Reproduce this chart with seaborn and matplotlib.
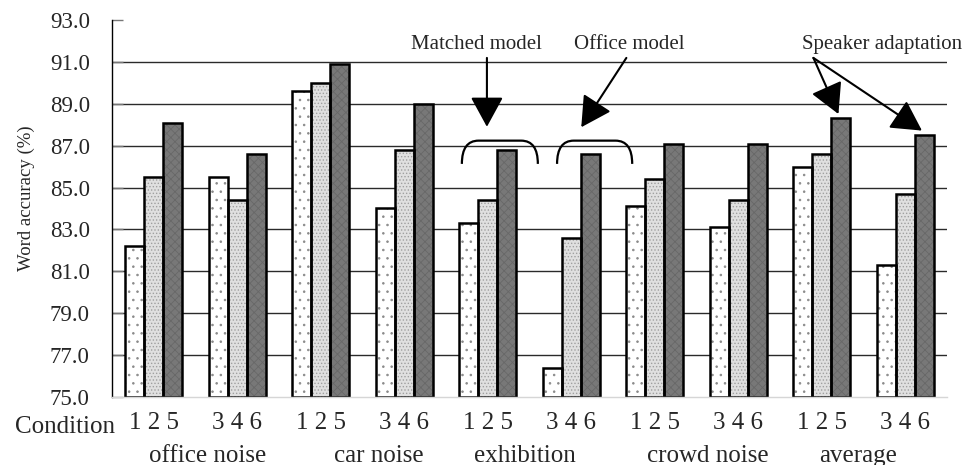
import pandas as pd
import numpy as np
import seaborn as sns
import matplotlib.pyplot as plt
from matplotlib.path import Path
from matplotlib.patches import PathPatch
from matplotlib.transforms import blended_transform_factory

# Valores (Word accuracy %)
noises = ['office noise', 'car noise', 'exhibition', 'crowd noise', 'average']
condition_sets = ['1 2 5', '3 4 6']
first_bar = [82.2, 85.5, 89.6, 84.0, 83.3, 76.4, 84.1, 83.1, 86.0, 81.3]
second_bar = [85.5, 84.4, 90.0, 86.8, 84.4, 82.6, 85.4, 84.4, 86.6, 84.7]
third_bar = [88.1, 86.6, 90.9, 89.0, 86.8, 86.6, 87.1, 87.1, 88.3, 87.5]
series = ['first', 'second', 'third']
y_ticks = [75.0, 77.0, 79.0, 81.0, 83.0, 85.0, 87.0, 89.0, 91.0, 93.0]

groups = [f'{n} {c}' for n in noises for c in condition_sets]
tick_labels = [c for n in noises for c in condition_sets]

df = pd.DataFrame({
    'group': groups * 3,
    'series': np.repeat(series, len(groups)),
    'accuracy': first_bar + second_bar + third_bar,
})

sns.set_theme(style='white')
plt.rcParams['font.family'] = ['Liberation Serif', 'DejaVu Serif']
plt.rcParams['hatch.linewidth'] = 0.6

fig = plt.figure(figsize=(9.78, 4.65), dpi=100)
ax = fig.add_axes([112 / 978, 1 - 397 / 465, 835 / 978, 377 / 465])

bar_width = 0.685
# preenchimento com textura
sns.barplot(data=df, x='group', y='accuracy', hue='series', order=groups,
            hue_order=series, palette=['white', '#e0e0e0', '#787878'],
            width=bar_width, gap=0, errorbar=None, legend=False, ax=ax)
hatches = ['..', '.....', 'xxxx']
hatch_colors = ['#8a8a8a', '#a0a0a0', '#686868']
for cont, h, hc in zip(ax.containers, hatches, hatch_colors):
    for p in cont:
        p.set_hatch(h)
        p.set_edgecolor(hc)
        p.set_linewidth(0)

# contorno preto
sns.barplot(data=df, x='group', y='accuracy', hue='series', order=groups,
            hue_order=series, palette=['black'] * 3, fill=False,
            width=bar_width, gap=0, errorbar=None, legend=False,
            linewidth=1.8, ax=ax)

# barras começam em 75
for p in ax.patches:
    h = p.get_height()
    p.set_y(y_ticks[0])
    p.set_height(h - y_ticks[0])

ax.set_ylim(y_ticks[0], y_ticks[-1])
ax.set_xlim(-0.5, len(groups) - 0.5)
ax.set_yticks(y_ticks)
ax.set_yticklabels([f'{v:.1f}' for v in y_ticks], fontsize=16.5)
ax.set_xticks(range(len(groups)))
ax.set_xticklabels(tick_labels, fontsize=18)
ax.tick_params(axis='x', length=0, pad=11)
ax.tick_params(axis='y', direction='in', length=8, width=1, color='#777777',
               left=True, pad=16)
ax.set_xlabel('')
ax.set_ylabel('')

ax.yaxis.grid(True, color='#2a2a2a', lw=1.0)
ax.set_axisbelow(True)
gl = ax.get_ygridlines()
gl[0].set_visible(False)
gl[-1].set_visible(False)

for s in ['top', 'right']:
    ax.spines[s].set_visible(False)
ax.spines['left'].set_color('black')
ax.spines['left'].set_linewidth(1.0)
ax.spines['bottom'].set_color('#d6d6d6')
ax.spines['bottom'].set_linewidth(1.0)

fig.text(26 / 978, 1 - 198 / 465, 'Word accuracy (%)', rotation=90,
         ha='center', va='center', fontsize=13.5)
fig.text(15 / 978, 1 - 433 / 465, 'Condition', ha='left', va='baseline',
         fontsize=18)

# nomes dos ruídos, no centro de cada par de grupos
offsets = [0.15, 0.2, -0.05, 0.13, -0.07]
trans = blended_transform_factory(ax.transData, fig.transFigure)
for i, (n, off) in enumerate(zip(noises, offsets)):
    ax.text(2 * i + 0.5 + off, 0.007, n, transform=trans,
            ha='center', va='baseline', fontsize=18)

# chaves
def brace(x0, x1, ytop, ybot, r):
    verts = [(x0, ybot), (x0, ytop), (x0 + r, ytop), (x0 + r, ytop),
             (x1 - r, ytop), (x1 - r, ytop), (x1, ytop), (x1, ybot)]
    codes = [Path.MOVETO, Path.CURVE3, Path.CURVE3, Path.LINETO,
             Path.LINETO, Path.LINETO, Path.CURVE3, Path.CURVE3]
    ax.add_patch(PathPatch(Path(verts, codes), fill=False, lw=1.6,
                           color='black', clip_on=False))

brace(3.69, 4.60, 87.24, 86.13, 0.2)
brace(4.83, 5.73, 87.24, 86.13, 0.2)

arrow = dict(arrowstyle='-|>,head_length=0.55,head_width=0.3', color='black',
             lw=1.5, mutation_scale=34, shrinkA=0, shrinkB=0)
ax.annotate('', xy=(3.99, 87.9), xytext=(3.99, 91.19), arrowprops=arrow)
ax.annotate('', xy=(5.12, 87.88), xytext=(5.66, 91.19), arrowprops=arrow)
ax.annotate('', xy=(8.20, 88.51), xytext=(7.90, 91.19), arrowprops=arrow)
ax.annotate('', xy=(9.20, 87.72), xytext=(7.90, 91.19), arrowprops=arrow)

ax.text(3.86, 91.85, 'Matched model', ha='center', va='center', fontsize=15)
ax.text(5.70, 91.85, 'Office model', ha='center', va='center', fontsize=15)
ax.text(8.72, 91.85, 'Speaker adaptation', ha='center', va='center',
        fontsize=15, clip_on=False)

fig.savefig('out.png', dpi=100)
